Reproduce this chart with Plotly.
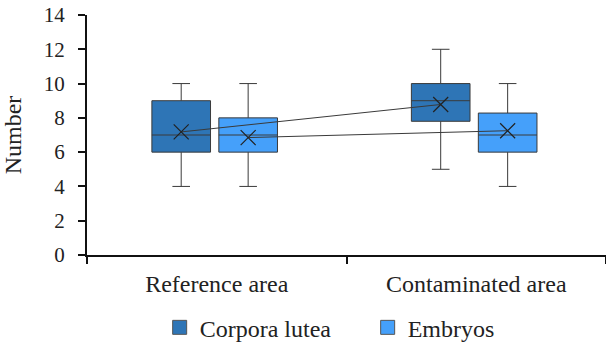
import plotly.graph_objects as go

categories = ["Reference area", "Contaminated area"]
series = ["Corpora lutea", "Embryos"]
colors = ["#2E75B6", "#45A0FA"]

cl_min = [4, 5]
cl_q1 = [6, 7.8]
cl_med = [7, 9]
cl_q3 = [9, 10]
cl_max = [10, 12]
cl_mean = [7.18, 8.78]

em_min = [4, 4]
em_q1 = [6, 6]
em_med = [7, 7]
em_q3 = [8, 8.28]
em_max = [10, 10]
em_mean = [6.85, 7.25]

stats = [
    (cl_min, cl_q1, cl_med, cl_q3, cl_max, cl_mean),
    (em_min, em_q1, em_med, em_q3, em_max, em_mean),
]
offsets = [-0.137, 0.121]
FONT = "Times New Roman, Liberation Serif, serif"
FS = 24
FS_Y = 21

fig = go.Figure()
for s, (name, col, st, off) in enumerate(zip(series, colors, stats, offsets)):
    mn, q1, md, q3, mx, mean = st
    xs = [i + off for i in range(len(categories))]
    fig.add_trace(go.Box(
        x=xs, q1=q1, median=md, q3=q3, lowerfence=mn, upperfence=mx,
        width=0.226, whiskerwidth=0.3, fillcolor=col,
        line=dict(color="#3a3a3a", width=1), name=name, showlegend=False,
        boxpoints=False, hoverinfo="skip",
    ))
    fig.add_trace(go.Scatter(
        x=xs, y=mean, mode="lines+markers", showlegend=False,
        line=dict(color="#3a3a3a", width=1),
        marker=dict(symbol="x-thin-open", size=15, line=dict(color="#222222", width=1.2), color="#222222"),
        hoverinfo="skip",
    ))
for name, col in zip(series, colors):
    fig.add_trace(go.Scatter(
        x=[None], y=[None], mode="markers", name=name,
        marker=dict(symbol="square", size=14, color=col, line=dict(color="#555555", width=1)),
    ))

fig.update_layout(
    width=606, height=345,
    margin=dict(l=87, r=0, t=15, b=90),
    plot_bgcolor="white", paper_bgcolor="white",
    font=dict(family=FONT, size=FS, color="#222222"),
    showlegend=True,
    legend=dict(orientation="h", x=0.14, xanchor="left",
                yref="container", y=0.05, yanchor="middle",
                font=dict(family=FONT, size=FS), tracegroupgap=0,
                entrywidth=163, entrywidthmode="pixels"),
    xaxis=dict(range=[-0.5, 1.5], tickvals=[0, 1], ticktext=categories,
               ticks="", showline=True, linecolor="#111111", linewidth=2,
               showgrid=False, zeroline=False, automargin=False,
               ticklabelstandoff=6,
               minor=dict(tick0=-0.5, dtick=1, ticks="outside", ticklen=7, tickcolor="#111111", tickwidth=2),
               tickfont=dict(family=FONT, size=FS)),
    yaxis=dict(range=[0, 14], dtick=2, ticks="outside", ticklen=7, tickwidth=2,
               tickcolor="#111111", showline=True, linecolor="#111111", linewidth=2,
               showgrid=False, zeroline=False, automargin=False,
               ticklabelstandoff=9,
               title=dict(text="Number", font=dict(family=FONT, size=FS), standoff=18),
               tickfont=dict(family=FONT, size=FS_Y)),
)
fig.write_html("out.html", post_script="document.body.style.margin='0';",
               config={"displayModeBar": False})
